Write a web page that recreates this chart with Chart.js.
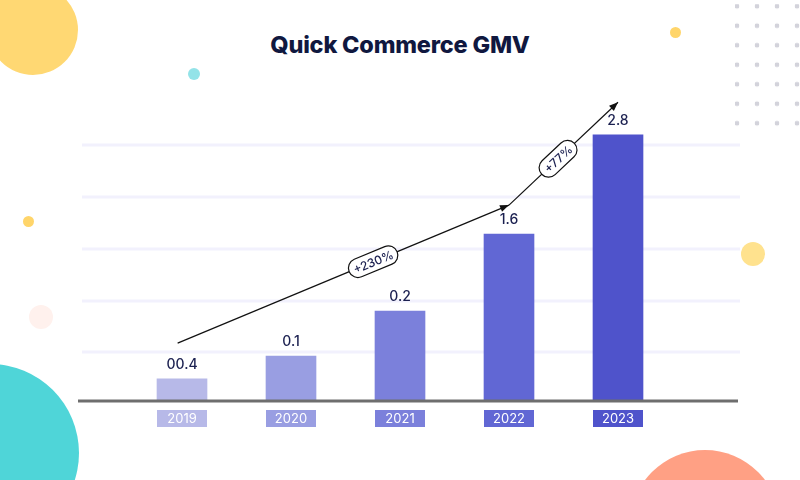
<!DOCTYPE html>
<html>
<head>
<meta charset="utf-8">
<title>Quick Commerce GMV</title>
<script src="https://cdn.jsdelivr.net/npm/chart.js@4.4.0/dist/chart.umd.min.js"></script>
<style>
  html, body { margin: 0; padding: 0; background: #fff; }
  .wrap { position: relative; width: 800px; height: 480px; overflow: hidden; font-family: Inter, "Noto Sans", sans-serif; }
  .dot { position: absolute; border-radius: 50%; }
  h1 {
    position: absolute; left: 0; right: 0; top: 30px; margin: 0;
    text-align: center; font-size: 23.5px; font-weight: 800; color: #10183f;
    letter-spacing: -0.2px;
  }
  .grid-dots { position: absolute; left: 735px; top: 4px; width: 70px; height: 130px;
    background-image: radial-gradient(circle, #d3d3db 2.2px, transparent 2.6px);
    background-size: 20px 19.5px; background-position: -8px -7.5px; }
  canvas { position: absolute; left: 0; top: 0; }
</style>
</head>
<body>
<div class="wrap">
  <!-- background decoration -->
  <div class="dot" style="left:-12px;top:-15px;width:90px;height:90px;background:#ffd873"></div>
  <div class="dot" style="left:188px;top:68px;width:12px;height:12px;background:#93e3e8"></div>
  <div class="dot" style="left:670px;top:27px;width:11px;height:11px;background:#ffd56a"></div>
  <div class="dot" style="left:23px;top:216px;width:11px;height:11px;background:#ffd56a"></div>
  <div class="dot" style="left:29px;top:305px;width:24px;height:24px;background:#fff1ed"></div>
  <div class="dot" style="left:741px;top:242px;width:24px;height:24px;background:#ffe28e"></div>
  <div class="dot" style="left:-99px;top:364px;width:178px;height:178px;background:#4fd5d8"></div>
  <div class="dot" style="left:630px;top:450px;width:150px;height:150px;background:#ffa084"></div>
  <div class="grid-dots"></div>
  <h1>Quick Commerce GMV</h1>
  <canvas id="chart" width="800" height="480"></canvas>
</div>

<script>
// data
const years = ['2019', '2020', '2021', '2022', '2023'];
const valueLabels = ['00.4', '0.1', '0.2', '1.6', '2.8'];
// drawn bar heights, in gridline units (the printed labels do not match them)
const barHeights = [0.41, 0.85, 1.72, 3.21, 5.13];
const gridValues = [0.92, 1.92, 2.92, 3.92, 4.93];
const barColors = ['#b7b9e8', '#999ee2', '#7b80db', '#6167d4', '#4f53cb'];

// growth arrow: points in [category index, value] and the pill texts
const arrowPoints = [[-0.04, 1.1], [3, 3.77], [4, 5.76]];
const growthLabels = ['+230%', '+77%'];

function arrowHead(ctx, x0, y0, x1, y1) {
  const a = Math.atan2(y1 - y0, x1 - x0);
  ctx.save();
  ctx.translate(x1, y1);
  ctx.rotate(a);
  ctx.beginPath();
  ctx.moveTo(0, 0);
  ctx.lineTo(-9, -3.5);
  ctx.lineTo(-9, 3.5);
  ctx.closePath();
  ctx.fill();
  ctx.restore();
}

function pill(ctx, cx, cy, angle, text, w) {
  const h = 19;
  ctx.save();
  ctx.translate(cx, cy);
  ctx.rotate(angle);
  ctx.beginPath();
  ctx.roundRect(-w / 2, -h / 2, w, h, h / 2);
  ctx.fillStyle = '#fff';
  ctx.fill();
  ctx.lineWidth = 1.2;
  ctx.strokeStyle = '#111';
  ctx.stroke();
  ctx.fillStyle = '#1b2050';
  ctx.font = '500 12px Inter';
  ctx.textAlign = 'center';
  ctx.textBaseline = 'middle';
  ctx.fillText(text, 0, 1);
  ctx.restore();
}

const decor = {
  id: 'decor',
  beforeDatasetsDraw(chart) {
    const { ctx, scales: { y } } = chart;
    ctx.save();
    ctx.strokeStyle = '#f2f1fd';
    ctx.lineWidth = 3;
    gridValues.forEach(v => {
      const py = Math.round(y.getPixelForValue(v));
      ctx.beginPath();
      ctx.moveTo(82, py);
      ctx.lineTo(740, py);
      ctx.stroke();
    });
    ctx.restore();
  },
  afterDatasetsDraw(chart) {
    const { ctx, scales: { x, y } } = chart;
    const bars = chart.getDatasetMeta(0).data;
    ctx.save();

    // baseline
    const y0 = y.getPixelForValue(0);
    ctx.strokeStyle = '#6e6e6e';
    ctx.lineWidth = 3;
    ctx.beginPath();
    ctx.moveTo(78, y0 + 1);
    ctx.lineTo(738, y0 + 1);
    ctx.stroke();

    // value labels and year boxes
    ctx.textAlign = 'center';
    ctx.textBaseline = 'middle';
    bars.forEach((bar, i) => {
      ctx.fillStyle = '#1b2050';
      ctx.font = '500 14px Inter';
      ctx.fillText(valueLabels[i], bar.x, bar.y - 14);

      const w = bar.width;
      ctx.fillStyle = barColors[i];
      ctx.fillRect(bar.x - w / 2, y0 + 10, w, 17);
      ctx.fillStyle = '#fff';
      ctx.font = '13px Inter';
      ctx.fillText(years[i], bar.x, y0 + 19);
    });

    // growth arrows
    const pts = arrowPoints.map(p => [x.getPixelForValue(p[0]), y.getPixelForValue(p[1])]);
    ctx.strokeStyle = '#111';
    ctx.fillStyle = '#111';
    ctx.lineWidth = 1.2;
    for (let i = 0; i < pts.length - 1; i++) {
      const [ax, ay] = pts[i];
      const [bx, by] = pts[i + 1];
      ctx.beginPath();
      ctx.moveTo(ax, ay);
      ctx.lineTo(bx, by);
      ctx.stroke();
      arrowHead(ctx, ax, ay, bx, by);
    }
    const t = [0.59, 0.45];
    const widths = [52, 45];
    for (let i = 0; i < pts.length - 1; i++) {
      const [ax, ay] = pts[i];
      const [bx, by] = pts[i + 1];
      pill(ctx, ax + (bx - ax) * t[i], ay + (by - ay) * t[i],
        Math.atan2(by - ay, bx - ax), growthLabels[i], widths[i]);
    }
    ctx.restore();
  }
};

new Chart(document.getElementById('chart'), {
  type: 'bar',
  data: {
    labels: years,
    datasets: [{
      data: barHeights,
      backgroundColor: barColors,
      barThickness: 50,
      borderWidth: 0
    }]
  },
  options: {
    responsive: false,
    animation: false,
    layout: { padding: { left: 127.5, right: 127.5, top: 89.8, bottom: 80 } },
    plugins: { legend: { display: false }, tooltip: { enabled: false } },
    scales: {
      x: { display: false },
      y: { display: false, min: 0, max: 6 }
    }
  },
  plugins: [decor]
});
</script>
</body>
</html>
